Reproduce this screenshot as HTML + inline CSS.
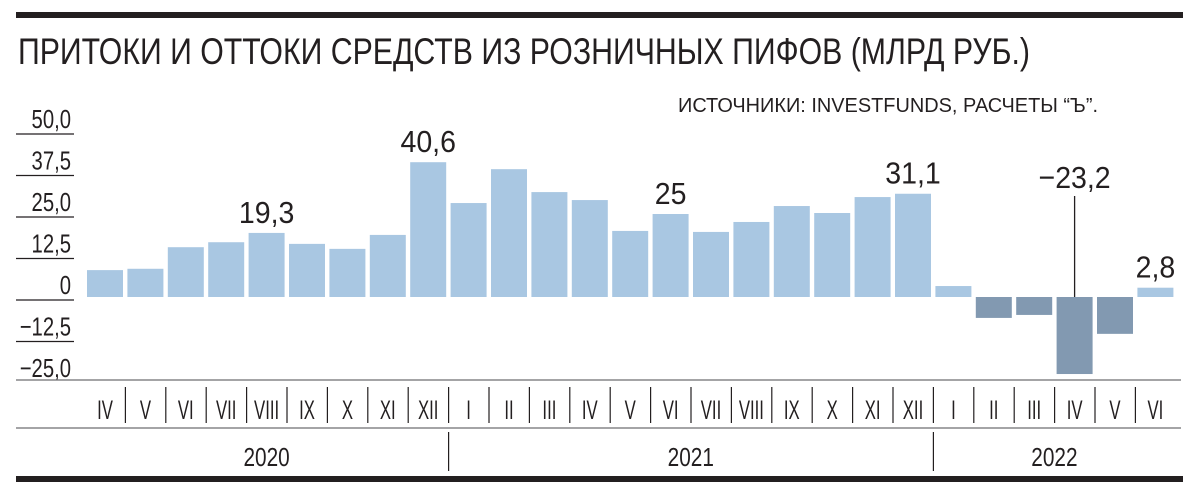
<!DOCTYPE html>
<html><head><meta charset="utf-8"><style>
html,body{margin:0;padding:0;background:#fff;}
svg{display:block;}
text{font-family:"Liberation Sans Narrow","Liberation Sans",sans-serif;fill:#231f20;}
</style></head><body>
<svg id="chart" width="1200" height="486" viewBox="0 0 1200 486" xmlns="http://www.w3.org/2000/svg">
<rect x="16" y="12" width="1167" height="6" fill="#231f20"/>
<text x="18" y="64" font-size="37" textLength="1012" lengthAdjust="spacingAndGlyphs">ПРИТОКИ И ОТТОКИ СРЕДСТВ ИЗ РОЗНИЧНЫХ ПИФОВ (МЛРД РУБ.)</text>
<text x="678" y="112" font-size="20" textLength="420" lengthAdjust="spacingAndGlyphs">ИСТОЧНИКИ: INVESTFUNDS, РАСЧЕТЫ “Ъ”.</text>
<g id="yaxis"></g>
<g id="bars"></g>
<g id="xaxis"></g>
<rect x="16" y="476" width="1167" height="6" fill="#231f20"/>
</svg>
<script>
const months = ["IV","V","VI","VII","VIII","IX","X","XI","XII","I","II","III","IV","V","VI","VII","VIII","IX","X","XI","XII","I","II","III","IV","V","VI"];
const values = [8.1,8.5,15,16.5,19.3,16,14.5,18.7,40.6,28.3,38.5,31.6,29.2,19.9,25,19.6,22.6,27.4,25.3,30.1,31.1,3.3,-6.3,-5.4,-23.2,-11.1,2.8];
const labelled = [4,8,14,20,24,26];
const yTicks = [50,37.5,25,12.5,0,-12.5,-25];
const yTickLabels = ["50,0","37,5","25,0","12,5","0","−12,5","−25,0"];
const years = ["2020","2021","2022"];
const yearStart = [0,9,21];
const yearEnd = [8,20,26];

const NS="http://www.w3.org/2000/svg";
const zeroY=297, k=3.32, x0=87, pitch=40.4, bw=36;
const y=v=>zeroY-v*k;
const xb=i=>x0+i*pitch;
function mk(tag,attrs,parent,txt){const e=document.createElementNS(NS,tag);for(const a in attrs)e.setAttribute(a,attrs[a]);if(txt!==undefined)e.textContent=txt;parent.appendChild(e);return e;}
function txt(x,yy,size,anchor,s,parent,sx){return mk('text',{x:0,y:0,'font-size':size,'text-anchor':anchor,transform:`translate(${x},${yy}) scale(${sx},1)`},parent,s);}
const fmt=v=>(v<0?"−":"")+String(Math.abs(v)).replace(".",",");

const ya=document.getElementById('yaxis');
yTicks.forEach((t,i)=>{
  const ly=y(t)+3;
  if(i<yTicks.length-1){const l=mk('line',{x1:16,x2:74,y1:ly,y2:ly,stroke:'#231f20','stroke-width':1.2},ya);
  
  }
  const tx=txt(71,ly-6,26,'end',yTickLabels[i],ya,0.78);
  
  
});

const bg=document.getElementById('bars');
values.forEach((v,i)=>{
  const r=mk('rect',{x:xb(i),y:Math.min(y(v),zeroY),width:bw,height:Math.abs(v)*k,fill:v<0?'#8299b1':'#a9c7e2'},bg);
  
  
});
labelled.forEach(i=>{
  const v=values[i];const cx=xb(i)+bw/2;
  let ty=y(Math.max(v,0))-10;
  if(v<0){ty=188;const l=mk('line',{x1:cx,x2:cx,y1:196,y2:zeroY,stroke:'#231f20','stroke-width':1.3},bg);
    
    }
  const t=txt(cx,ty,31,'middle',fmt(v),bg,0.92);
  
  
});

const xa=document.getElementById('xaxis');
[380,428].forEach(ly=>{const l=mk('line',{x1:16,x2:1181,y1:ly,y2:ly,stroke:'#6d6e71','stroke-width':1.3},xa);
  
  });
months.forEach((m,i)=>{
  const t=txt(xb(i)+bw/2,419,27,'middle',m,xa,0.62);
  
  
  if(i>0){const sx=xb(i)-2;const l=mk('line',{x1:sx,x2:sx,y1:387,y2:423,stroke:'#231f20','stroke-width':1.2},xa);
    
    }
});
years.forEach((yr,j)=>{
  const cx=(xb(yearStart[j])+xb(yearEnd[j])+bw)/2;
  const t=txt(cx,466,26,'middle',yr,xa,0.8);
  
  
  if(j>0){const sx=xb(yearStart[j])-2;const l=mk('line',{x1:sx,x2:sx,y1:432,y2:471,stroke:'#231f20','stroke-width':1.2},xa);
    
    }
});
</script>
</body></html>
